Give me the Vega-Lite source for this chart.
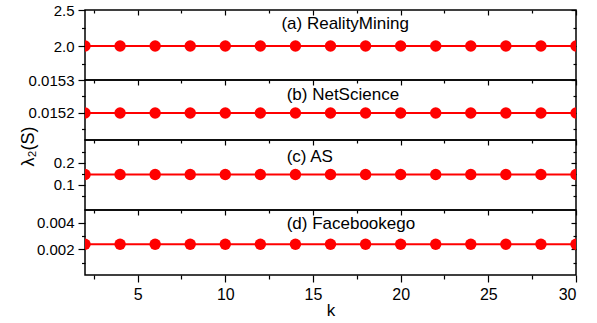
{
  "$schema": "https://vega.github.io/schema/vega-lite/v6.json",
  "padding": {"left": 18, "top": 2, "right": 5, "bottom": 2},
  "background": "white",
  "spacing": 0,
  "bounds": "flush",
  "config": {
    "view": {"stroke": "black", "strokeWidth": 1.5},
    "font": "Liberation Sans",
    "axis": {"domain": false, "grid": false, "tickColor": "black", "tickWidth": 1.2, "labelFont": "Liberation Sans", "labelFontSize": 15, "labelPadding": 4, "labelColor": "black", "titleFont": "Liberation Sans", "titleFontWeight": "normal", "titleColor": "black"}
  },
  "datasets": {
    "pts": [
      {"panel": "a", "k": 2, "v": 2.0}, {"panel": "a", "k": 4, "v": 2.0}, {"panel": "a", "k": 6, "v": 2.0}, {"panel": "a", "k": 8, "v": 2.0}, {"panel": "a", "k": 10, "v": 2.0}, {"panel": "a", "k": 12, "v": 2.0}, {"panel": "a", "k": 14, "v": 2.0}, {"panel": "a", "k": 16, "v": 2.0}, {"panel": "a", "k": 18, "v": 2.0}, {"panel": "a", "k": 20, "v": 2.0}, {"panel": "a", "k": 22, "v": 2.0}, {"panel": "a", "k": 24, "v": 2.0}, {"panel": "a", "k": 26, "v": 2.0}, {"panel": "a", "k": 28, "v": 2.0}, {"panel": "a", "k": 30, "v": 2.0},
      {"panel": "b", "k": 2, "v": 0.0152}, {"panel": "b", "k": 4, "v": 0.0152}, {"panel": "b", "k": 6, "v": 0.0152}, {"panel": "b", "k": 8, "v": 0.0152}, {"panel": "b", "k": 10, "v": 0.0152}, {"panel": "b", "k": 12, "v": 0.0152}, {"panel": "b", "k": 14, "v": 0.0152}, {"panel": "b", "k": 16, "v": 0.0152}, {"panel": "b", "k": 18, "v": 0.0152}, {"panel": "b", "k": 20, "v": 0.0152}, {"panel": "b", "k": 22, "v": 0.0152}, {"panel": "b", "k": 24, "v": 0.0152}, {"panel": "b", "k": 26, "v": 0.0152}, {"panel": "b", "k": 28, "v": 0.0152}, {"panel": "b", "k": 30, "v": 0.0152},
      {"panel": "c", "k": 2, "v": 0.147}, {"panel": "c", "k": 4, "v": 0.147}, {"panel": "c", "k": 6, "v": 0.147}, {"panel": "c", "k": 8, "v": 0.147}, {"panel": "c", "k": 10, "v": 0.147}, {"panel": "c", "k": 12, "v": 0.147}, {"panel": "c", "k": 14, "v": 0.147}, {"panel": "c", "k": 16, "v": 0.147}, {"panel": "c", "k": 18, "v": 0.147}, {"panel": "c", "k": 20, "v": 0.147}, {"panel": "c", "k": 22, "v": 0.147}, {"panel": "c", "k": 24, "v": 0.147}, {"panel": "c", "k": 26, "v": 0.147}, {"panel": "c", "k": 28, "v": 0.147}, {"panel": "c", "k": 30, "v": 0.147},
      {"panel": "d", "k": 2, "v": 0.00238}, {"panel": "d", "k": 4, "v": 0.00238}, {"panel": "d", "k": 6, "v": 0.00238}, {"panel": "d", "k": 8, "v": 0.00238}, {"panel": "d", "k": 10, "v": 0.00238}, {"panel": "d", "k": 12, "v": 0.00238}, {"panel": "d", "k": 14, "v": 0.00238}, {"panel": "d", "k": 16, "v": 0.00238}, {"panel": "d", "k": 18, "v": 0.00238}, {"panel": "d", "k": 20, "v": 0.00238}, {"panel": "d", "k": 22, "v": 0.00238}, {"panel": "d", "k": 24, "v": 0.00238}, {"panel": "d", "k": 26, "v": 0.00238}, {"panel": "d", "k": 28, "v": 0.00238}, {"panel": "d", "k": 30, "v": 0.00238}
    ],
    "labels": [
      {"panel": "a", "k": 13.2, "v": 2.306, "text": "(a) RealityMining"},
      {"panel": "b", "k": 13.5, "v": 0.015255, "text": "(b) NetScience"},
      {"panel": "c", "k": 13.5, "v": 0.226, "text": "(c) AS"},
      {"panel": "d", "k": 13.5, "v": 0.0039, "text": "(d) Facebookego"}
    ]
  },
  "vconcat": [
    {
      "width": 491, "height": 70,
      "layer": [
        {"data": {"name": "pts"}, "transform": [{"filter": "datum.panel === 'a'"}],
         "mark": {"type": "line", "color": "#ff0000", "strokeWidth": 2, "clip": true},
         "encoding": {
           "x": {"field": "k", "type": "quantitative", "scale": {"domain": [2, 30], "nice": false, "zero": false}, "axis": null},
           "y": {"field": "v", "type": "quantitative", "scale": {"domain": [1.528, 2.5], "nice": false, "zero": false},
                 "axis": {"orient": "left", "values": [1.75, 2, 2.25, 2.5], "format": ".1f", "labelExpr": "datum.value % 0.5 === 0 ? datum.label : ''", "tickSize": {"condition": {"test": "datum.value % 0.5 === 0", "value": 7}, "value": 3.5}, "title": null}}
         }},
        {"data": {"name": "pts"}, "transform": [{"filter": "datum.panel === 'a'"}],
         "mark": {"type": "point", "filled": true, "shape": "circle", "size": 130, "color": "#ff0000", "opacity": 1, "clip": true},
         "encoding": {
           "x": {"field": "k", "type": "quantitative", "scale": {"domain": [2, 30], "nice": false, "zero": false},
                 "axis": {"orient": "top", "values": [2.5, 5, 7.5, 10, 12.5, 15, 17.5, 20, 22.5, 25, 27.5, 30], "labels": false, "tickSize": {"condition": {"test": "datum.value % 5 === 0", "value": -5}, "value": -3}, "title": null}},
           "y": {"field": "v", "type": "quantitative", "scale": {"domain": [1.528, 2.5], "nice": false, "zero": false},
                 "axis": {"orient": "right", "values": [1.75, 2, 2.25, 2.5], "labels": false, "tickSize": {"condition": {"test": "datum.value % 0.5 === 0", "value": -5}, "value": -3}, "title": null}}
         }},
        {"data": {"name": "labels"}, "transform": [{"filter": "datum.panel === 'a'"}],
         "mark": {"type": "text", "align": "left", "baseline": "middle", "fontSize": 17, "font": "Liberation Sans", "color": "black"},
         "encoding": {
           "x": {"field": "k", "type": "quantitative", "scale": {"domain": [2, 30], "nice": false, "zero": false}, "axis": null},
           "y": {"field": "v", "type": "quantitative", "scale": {"domain": [1.528, 2.5], "nice": false, "zero": false}, "axis": null},
           "text": {"field": "text"}
         }}
      ],
      "resolve": {"axis": {"x": "independent", "y": "independent"}}
    },
    {
      "width": 491, "height": 60,
      "layer": [
        {"data": {"name": "pts"}, "transform": [{"filter": "datum.panel === 'b'"}],
         "mark": {"type": "line", "color": "#ff0000", "strokeWidth": 2, "clip": true},
         "encoding": {
           "x": {"field": "k", "type": "quantitative", "scale": {"domain": [2, 30], "nice": false, "zero": false}, "axis": null},
           "y": {"field": "v", "type": "quantitative", "scale": {"domain": [0.015118, 0.0153], "nice": false, "zero": false},
                 "axis": {"orient": "left", "values": [0.01515, 0.0152, 0.01525, 0.0153], "format": ".4f", "labelExpr": "abs(datum.value*10000 - round(datum.value*10000)) < 0.001 ? datum.label : ''", "tickSize": {"condition": {"test": "abs(datum.value*10000 - round(datum.value*10000)) < 0.001", "value": 7}, "value": 3.5},
                          "title": "λ₂(S)", "titleFontSize": 18, "titleX": -48, "titleY": 66, "titleAlign": "center", "titleAngle": 270}}
         }},
        {"data": {"name": "pts"}, "transform": [{"filter": "datum.panel === 'b'"}],
         "mark": {"type": "point", "filled": true, "shape": "circle", "size": 130, "color": "#ff0000", "opacity": 1, "clip": true},
         "encoding": {
           "x": {"field": "k", "type": "quantitative", "scale": {"domain": [2, 30], "nice": false, "zero": false},
                 "axis": {"orient": "top", "values": [2.5, 5, 7.5, 10, 12.5, 15, 17.5, 20, 22.5, 25, 27.5, 30], "labels": false, "tickSize": {"condition": {"test": "datum.value % 5 === 0", "value": -5}, "value": -3}, "title": null}},
           "y": {"field": "v", "type": "quantitative", "scale": {"domain": [0.015118, 0.0153], "nice": false, "zero": false},
                 "axis": {"orient": "right", "values": [0.01515, 0.0152, 0.01525, 0.0153], "labels": false, "tickSize": {"condition": {"test": "abs(datum.value*10000 - round(datum.value*10000)) < 0.001", "value": -5}, "value": -3}, "title": null}}
         }},
        {"data": {"name": "labels"}, "transform": [{"filter": "datum.panel === 'b'"}],
         "mark": {"type": "text", "align": "left", "baseline": "middle", "fontSize": 17, "font": "Liberation Sans", "color": "black"},
         "encoding": {
           "x": {"field": "k", "type": "quantitative", "scale": {"domain": [2, 30], "nice": false, "zero": false}, "axis": null},
           "y": {"field": "v", "type": "quantitative", "scale": {"domain": [0.015118, 0.0153], "nice": false, "zero": false}, "axis": null},
           "text": {"field": "text"}
         }}
      ],
      "resolve": {"axis": {"x": "independent", "y": "independent"}}
    },
    {
      "width": 491, "height": 70,
      "layer": [
        {"data": {"name": "pts"}, "transform": [{"filter": "datum.panel === 'c'"}],
         "mark": {"type": "line", "color": "#ff0000", "strokeWidth": 2, "clip": true},
         "encoding": {
           "x": {"field": "k", "type": "quantitative", "scale": {"domain": [2, 30], "nice": false, "zero": false}, "axis": null},
           "y": {"field": "v", "type": "quantitative", "scale": {"domain": [-0.015, 0.305], "nice": false, "zero": false},
                 "axis": {"orient": "left", "values": [0.05, 0.1, 0.15, 0.2, 0.25], "format": ".1f", "labelExpr": "abs(datum.value*10 - round(datum.value*10)) < 0.001 ? datum.label : ''", "tickSize": {"condition": {"test": "abs(datum.value*10 - round(datum.value*10)) < 0.001", "value": 7}, "value": 3.5}, "title": null}}
         }},
        {"data": {"name": "pts"}, "transform": [{"filter": "datum.panel === 'c'"}],
         "mark": {"type": "point", "filled": true, "shape": "circle", "size": 130, "color": "#ff0000", "opacity": 1, "clip": true},
         "encoding": {
           "x": {"field": "k", "type": "quantitative", "scale": {"domain": [2, 30], "nice": false, "zero": false},
                 "axis": {"orient": "top", "values": [2.5, 5, 7.5, 10, 12.5, 15, 17.5, 20, 22.5, 25, 27.5, 30], "labels": false, "tickSize": {"condition": {"test": "datum.value % 5 === 0", "value": -5}, "value": -3}, "title": null}},
           "y": {"field": "v", "type": "quantitative", "scale": {"domain": [-0.015, 0.305], "nice": false, "zero": false},
                 "axis": {"orient": "right", "values": [0.05, 0.1, 0.15, 0.2, 0.25], "labels": false, "tickSize": {"condition": {"test": "abs(datum.value*10 - round(datum.value*10)) < 0.001", "value": -5}, "value": -3}, "title": null}}
         }},
        {"data": {"name": "labels"}, "transform": [{"filter": "datum.panel === 'c'"}],
         "mark": {"type": "text", "align": "left", "baseline": "middle", "fontSize": 17, "font": "Liberation Sans", "color": "black"},
         "encoding": {
           "x": {"field": "k", "type": "quantitative", "scale": {"domain": [2, 30], "nice": false, "zero": false}, "axis": null},
           "y": {"field": "v", "type": "quantitative", "scale": {"domain": [-0.015, 0.305], "nice": false, "zero": false}, "axis": null},
           "text": {"field": "text"}
         }}
      ],
      "resolve": {"axis": {"x": "independent", "y": "independent"}}
    },
    {
      "width": 491, "height": 65,
      "layer": [
        {"data": {"name": "pts"}, "transform": [{"filter": "datum.panel === 'd'"}],
         "mark": {"type": "line", "color": "#ff0000", "strokeWidth": 2, "clip": true},
         "encoding": {
           "x": {"field": "k", "type": "quantitative", "scale": {"domain": [2, 30], "nice": false, "zero": false},
                 "axis": {"orient": "bottom", "values": [2.5, 5, 7.5, 10, 12.5, 15, 17.5, 20, 22.5, 25, 27.5, 30], "labelExpr": "datum.value % 5 === 0 ? datum.label : ''", "tickSize": {"condition": {"test": "datum.value % 5 === 0", "value": 7}, "value": 4}, "labelFontSize": 16, "labelPadding": 4, "title": "k", "titleFontSize": 17, "titlePadding": 0}},
           "y": {"field": "v", "type": "quantitative", "scale": {"domain": [0.00007, 0.00495], "nice": false, "zero": false},
                 "axis": {"orient": "left", "values": [0.001, 0.002, 0.003, 0.004], "format": ".3f", "labelExpr": "abs(datum.value*500 - round(datum.value*500)) < 0.001 ? datum.label : ''", "tickSize": {"condition": {"test": "abs(datum.value*500 - round(datum.value*500)) < 0.001", "value": 7}, "value": 3.5}, "title": null}}
         }},
        {"data": {"name": "pts"}, "transform": [{"filter": "datum.panel === 'd'"}],
         "mark": {"type": "point", "filled": true, "shape": "circle", "size": 130, "color": "#ff0000", "opacity": 1, "clip": true},
         "encoding": {
           "x": {"field": "k", "type": "quantitative", "scale": {"domain": [2, 30], "nice": false, "zero": false},
                 "axis": {"orient": "top", "values": [2.5, 5, 7.5, 10, 12.5, 15, 17.5, 20, 22.5, 25, 27.5, 30], "labels": false, "tickSize": {"condition": {"test": "datum.value % 5 === 0", "value": -5}, "value": -3}, "title": null}},
           "y": {"field": "v", "type": "quantitative", "scale": {"domain": [0.00007, 0.00495], "nice": false, "zero": false},
                 "axis": {"orient": "right", "values": [0.001, 0.002, 0.003, 0.004], "labels": false, "tickSize": {"condition": {"test": "abs(datum.value*500 - round(datum.value*500)) < 0.001", "value": -5}, "value": -3}, "title": null}}
         }},
        {"data": {"name": "labels"}, "transform": [{"filter": "datum.panel === 'd'"}],
         "mark": {"type": "text", "align": "left", "baseline": "middle", "fontSize": 17, "font": "Liberation Sans", "color": "black"},
         "encoding": {
           "x": {"field": "k", "type": "quantitative", "scale": {"domain": [2, 30], "nice": false, "zero": false}, "axis": null},
           "y": {"field": "v", "type": "quantitative", "scale": {"domain": [0.00007, 0.00495], "nice": false, "zero": false}, "axis": null},
           "text": {"field": "text"}
         }}
      ],
      "resolve": {"axis": {"x": "independent", "y": "independent"}}
    }
  ]
}
